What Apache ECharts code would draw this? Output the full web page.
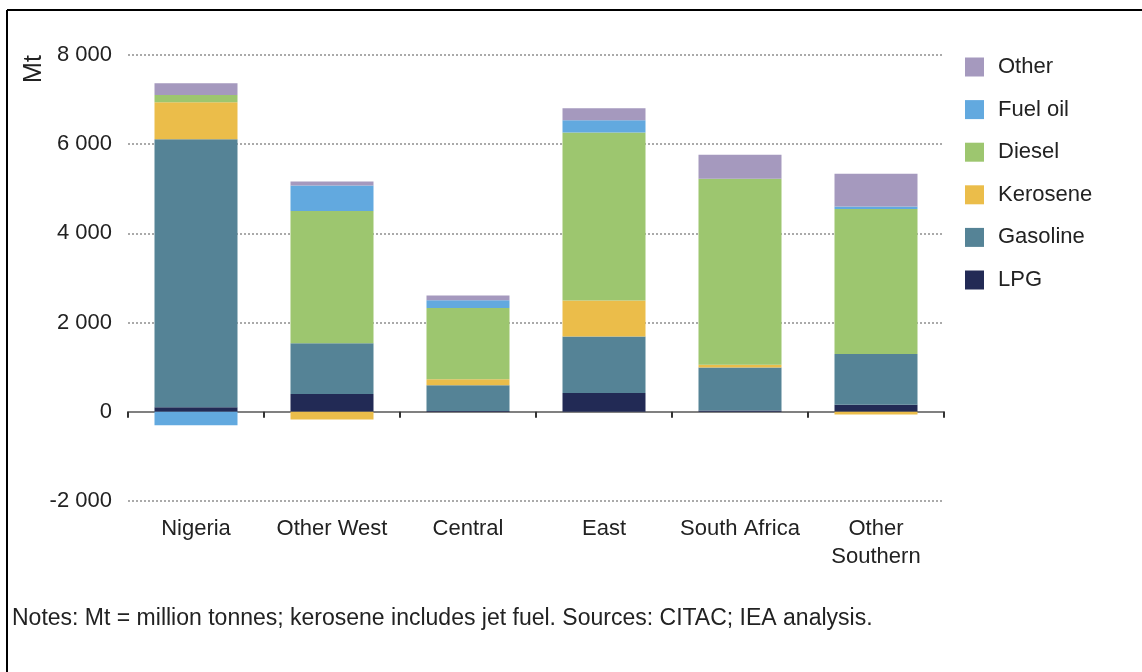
<!DOCTYPE html>
<html>
<head>
<meta charset="utf-8">
<script src="https://cdn.jsdelivr.net/npm/echarts@6/dist/echarts.min.js"></script>
<style>
  html, body { margin: 0; padding: 0; background: #fff; }
  #container { width: 1142px; height: 672px; }
</style>
</head>
<body>
<div id="container"></div>
<script>
// regions on the x axis
var categories = ["Nigeria", "Other West", "Central", "East", "South Africa", "Other\nSouthern"];

// Mt
var lpg      = [100, 400, 20, 420, 30, 160];
var gasoline = [6010, 1135, 575, 1270, 965, 1135];
var kerosene = [830, -170, 135, 805, 60, -60];
var diesel   = [165, 2965, 1600, 3770, 4170, 3250];
var fuelOil  = [-300, 575, 170, 270, 0, 60];
var other    = [260, 90, 105, 270, 540, 730];

var yTicks = [-2000, 0, 2000, 4000, 6000, 8000];

var font = "'Liberation Sans', Arial, sans-serif";
var textColor = "#222";

function bar(name, data, color) {
  return {
    name: name,
    type: "bar",
    stack: "total",
    barWidth: 83,
    itemStyle: { color: color },
    data: data
  };
}

var option = {
  animation: false,
  textStyle: { fontFamily: font },
  grid: { left: 128, right: 198, top: 55, bottom: 171 },
  legend: {
    orient: "vertical",
    left: 965,
    top: 56,
    padding: 0,
    itemWidth: 19,
    itemHeight: 19,
    itemGap: 20.6,
    icon: "rect",
    data: ["Other", "Fuel oil", "Diesel", "Kerosene", "Gasoline", "LPG"],
    textStyle: { fontSize: 22, color: textColor, fontFamily: font, padding: [0, 0, 0, 9] }
  },
  xAxis: {
    type: "category",
    data: categories,
    axisLine: { onZero: true, lineStyle: { color: "#808080", width: 2 } },
    axisTick: { show: true, interval: 0, length: 6, lineStyle: { color: "#333", width: 2 } },
    axisLabel: { interval: 0, margin: 14, fontSize: 22, lineHeight: 28, color: textColor, fontFamily: font }
  },
  yAxis: {
    type: "value",
    min: yTicks[0],
    max: yTicks[yTicks.length - 1],
    interval: 2000,
    axisLine: { show: false },
    axisTick: { show: false },
    axisLabel: {
      margin: 16,
      fontSize: 22,
      color: textColor,
      fontFamily: font,
      formatter: function (v) {
        return String(v).replace(/\B(?=(\d{3})+(?!\d))/g, " ");
      }
    },
    splitLine: { lineStyle: { color: "#aaa", width: 2, type: [2, 2] } }
  },
  graphic: [
    { type: "line", shape: { x1: 7, y1: 10, x2: 1142, y2: 10 }, style: { stroke: "#000", lineWidth: 2 } },
    { type: "line", shape: { x1: 7, y1: 10, x2: 7, y2: 672 }, style: { stroke: "#000", lineWidth: 2 } },
    {
      type: "text", x: 34, y: 69, rotation: Math.PI / 2,
      style: { text: "Mt", fontSize: 25, fill: textColor, fontFamily: font, align: "center", verticalAlign: "middle" }
    },
    {
      type: "text", left: 12, top: 607,
      style: {
        text: "Notes: Mt = million tonnes; kerosene includes jet fuel. Sources: CITAC; IEA analysis.",
        fontSize: 23, fill: textColor, fontFamily: font
      }
    }
  ],
  series: [
    bar("LPG", lpg, "#222a55"),
    bar("Gasoline", gasoline, "#558396"),
    bar("Kerosene", kerosene, "#ebbd4a"),
    bar("Diesel", diesel, "#9dc66f"),
    bar("Fuel oil", fuelOil, "#62a9df"),
    bar("Other", other, "#a599be")
  ]
};

var mychart = echarts.init(document.querySelector("#container"));
mychart.setOption(option);
</script>
</body>
</html>
